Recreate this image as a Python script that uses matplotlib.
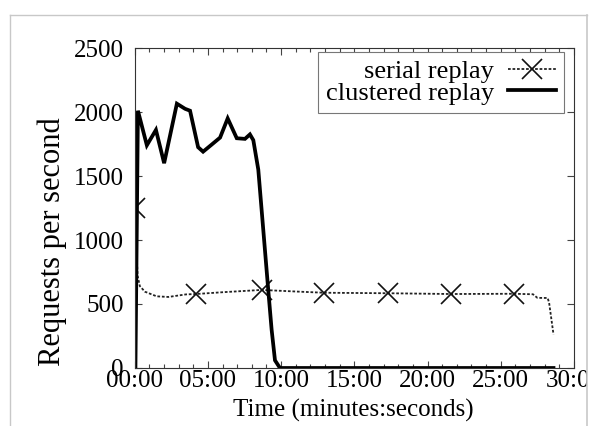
import matplotlib
matplotlib.use('Agg')
from matplotlib import pyplot as plt
from matplotlib.ticker import MultipleLocator, FixedLocator, FuncFormatter
from matplotlib.patches import Rectangle
from matplotlib.lines import Line2D

plt.rcParams['font.family'] = ['Liberation Serif', 'DejaVu Serif']
plt.rcParams['font.size'] = 18

# time in minutes, requests per second
serial_t = [0.0, 0.2, 0.35, 0.7, 1.5, 2.3, 3.5, 4.2, 6.0, 8.67, 11.3,
            12.92, 17.28, 21.6, 25.9, 27.2, 27.5, 28.2, 28.3, 28.6]
serial_rps = [1250, 720, 640, 596, 560, 555, 575, 578, 592, 610, 596,
              588, 584, 578, 580, 576, 548, 547, 510, 262]
serial_marks = [0, 7, 9, 11, 12, 13, 14]

clustered_t = [0.05, 0.22, 0.83, 1.45, 2.01, 2.88, 3.44, 3.78, 4.33, 4.67,
               5.2, 5.83, 6.35, 6.97, 7.53, 7.87, 8.1, 8.44, 8.78, 9.12,
               9.35, 9.58, 9.92, 28.6]
clustered_rps = [0, 2010, 1740, 1860, 1600, 2065, 2025, 2010, 1725, 1690,
                 1740, 1800, 1950, 1795, 1790, 1825, 1780, 1550, 1080, 610,
                 300, 60, 0, 0]

x_ticks = [0, 5, 10, 15, 20, 25, 30]
y_ticks = [0, 500, 1000, 1500, 2000, 2500]

fig = plt.figure(figsize=(5.91, 4.26), dpi=100)
ax = fig.add_axes([134.7 / 591, 1 - 368 / 426, 439.3 / 591, 320 / 426])

ax.plot(serial_t, serial_rps, color='#222222', lw=1.3, ls=(0, (1.5, 1)),
        marker='x', markevery=serial_marks, markersize=14,
        markeredgewidth=1.2, markeredgecolor='#111111',
        label='serial replay')
ax.plot(clustered_t, clustered_rps, color='black', lw=2.7,
        solid_joinstyle='miter', label='clustered replay')

ax.set_xlim(0, 30)
ax.set_ylim(0, 2500)
ax.xaxis.set_major_locator(FixedLocator(x_ticks))
ax.xaxis.set_minor_locator(MultipleLocator(1))
ax.yaxis.set_major_locator(FixedLocator(y_ticks))
ax.xaxis.set_major_formatter(FuncFormatter(lambda v, p: '%02d:00' % int(round(v))))
ax.tick_params(direction='in', top=True, right=True, which='both',
               color='#444444', width=0.8)
ax.tick_params(which='major', length=5)
ax.tick_params(which='minor', length=3)
ax.tick_params(axis='x', pad=1.5)
ax.tick_params(axis='y', pad=8)
for s in ax.spines.values():
    s.set_color('#333333')
    s.set_linewidth(0.8)

leg = ax.legend(loc='upper right', bbox_to_anchor=(0.977, 0.988),
                borderaxespad=0, markerfirst=False, fancybox=False,
                framealpha=1, edgecolor='#777777', handlelength=1.8,
                handletextpad=0.55, labelspacing=-0.08, borderpad=0.3,
                numpoints=1, fontsize=19)
leg.get_frame().set_linewidth(0.8)

fig.text(353 / 591, 1 - 410 / 426, 'Time (minutes:seconds)',
         ha='center', va='center')
fig.text(52 / 591, 1 - 242 / 426, 'Requests per second', rotation=90,
         ha='center', va='center', fontsize=22)

# screenshot frame
fig.add_artist(Rectangle((587 / 591, 0), 4 / 591, 1, transform=fig.transFigure,
                         facecolor='white', edgecolor='none', zorder=5))
frame = '#c8c8c8'
fig.add_artist(Line2D([10 / 591, 10 / 591], [0, 1 - 15 / 426],
                      transform=fig.transFigure, color=frame, lw=1, zorder=6))
fig.add_artist(Line2D([10 / 591, 587 / 591], [1 - 15 / 426, 1 - 15 / 426],
                      transform=fig.transFigure, color=frame, lw=1, zorder=6))
fig.add_artist(Line2D([587 / 591, 587 / 591], [0, 1 - 15 / 426],
                      transform=fig.transFigure, color=frame, lw=1.2, zorder=6))

fig.savefig('out.png', dpi=100)
